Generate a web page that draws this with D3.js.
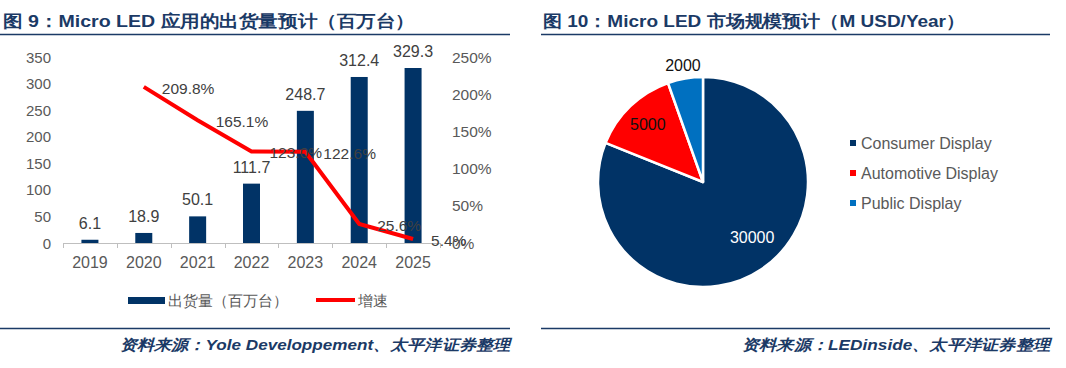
<!DOCTYPE html>
<html><head><meta charset="utf-8">
<script src="https://cdn.jsdelivr.net/npm/d3@7"></script>
<style>
body{margin:0;background:#fff;}
svg{display:block;}
text{font-family:"Liberation Sans",Arial,sans-serif;}
</style></head>
<body>
<svg id="c" width="1066" height="368"></svg>
<script>
// ---- data ----
const years = ["2019","2020","2021","2022","2023","2024","2025"];
const shipments = [6.1, 18.9, 50.1, 111.7, 248.7, 312.4, 329.3];
const growth = [null, 209.8, 165.1, 123.0, 122.6, 25.6, 5.4];
const leftTicks = [0,50,100,150,200,250,300,350];
const rightTicks = [0,50,100,150,200,250];
const pieCats = ["Consumer Display","Automotive Display","Public Display"];
const pieVals = [30000, 5000, 2000];
const pieColors = ["#013366","#FF0000","#0070C0"];
const title1 = "图 9：Micro LED 应用的出货量预计（百万台）";
const title2 = "图 10：Micro LED 市场规模预计（M USD/Year）";
const source1 = "资料来源：Yole Developpement、太平洋证券整理";
const source2 = "资料来源：LEDinside、太平洋证券整理";
const legend1 = ["出货量（百万台）","增速"];

const svg = d3.select("#c");
const navy = "#013366", gray = "#595959", hdr = "#1B3A66", dark = "#404040";

// ---- headers / footers ----
function frame(x0, x1, tx, tw, title, sx0, source){
  svg.append("text").attr("x",tx).attr("y",27).text(title)
    .attr("font-family","'Noto Sans CJK SC'").attr("font-weight","bold")
    .attr("font-size",17).attr("fill",hdr)
    .attr("textLength",tw).attr("lengthAdjust","spacingAndGlyphs");
  svg.append("line").attr("x1",x0).attr("x2",x1).attr("y1",34.5).attr("y2",34.5)
    .attr("stroke",hdr).attr("stroke-width",1.3);
  svg.append("line").attr("x1",x0).attr("x2",x1).attr("y1",328.5).attr("y2",328.5)
    .attr("stroke",hdr).attr("stroke-width",1.3);
  svg.append("text").attr("x",sx0).attr("y",350).text(source)
    .attr("font-family","'Noto Sans CJK SC'").attr("font-weight","bold").attr("font-style","italic")
    .attr("font-size",15).attr("fill",hdr)
    .attr("textLength",x1-sx0).attr("lengthAdjust","spacingAndGlyphs");
}
frame(0, 510, 3, 412, title1, 120, source1);
frame(541, 1050, 543, 422, title2, 742, source2);

// ---- left chart ----
const xb = d3.scaleBand().domain(years).range([63,440]);
const yL = d3.scaleLinear().domain([0,350]).range([243,57]);
const yR = d3.scaleLinear().domain([0,250]).range([243,57]);

const g = svg.append("g");
g.append("line").attr("x1",63).attr("x2",440).attr("y1",243.5).attr("y2",243.5).attr("stroke","#BFBFBF");
years.concat(["end"]).forEach((d,i)=>{
  const xx = i<years.length ? xb(d) : xb.range()[1];
  g.append("line").attr("x1",Math.round(xx)+0.5).attr("x2",Math.round(xx)+0.5).attr("y1",243).attr("y2",248).attr("stroke","#BFBFBF");
});
g.selectAll(".lt").data(leftTicks).join("text").attr("x",51).attr("y",d=>yL(d)+5.5)
  .attr("text-anchor","end").attr("font-size",15).attr("fill",gray).text(d=>d);
g.selectAll(".rt").data(rightTicks).join("text").attr("x",452).attr("y",d=>yR(d)+5.5)
  .attr("text-anchor","start").attr("font-size",15.5).attr("fill",gray).text(d=>d+"%");
g.selectAll(".xt").data(years).join("text").attr("x",d=>xb(d)+xb.bandwidth()/2).attr("y",268)
  .attr("text-anchor","middle").attr("font-size",16).attr("fill",gray).text(d=>d);
// bars
g.selectAll(".bar").data(shipments).join("rect")
  .attr("x",(d,i)=>xb(years[i])+xb.bandwidth()/2-8.5).attr("width",17)
  .attr("y",d=>yL(d)).attr("height",d=>243-yL(d)).attr("fill",navy);
g.selectAll(".bl").data(shipments).join("text")
  .attr("x",(d,i)=>xb(years[i])+xb.bandwidth()/2).attr("y",d=>yL(d)-11)
  .attr("text-anchor","middle").attr("font-size",16).attr("fill",dark).text(d=>d.toFixed(1));
// line
const pts = growth.map((v,i)=>v==null?null:[xb(years[i])+xb.bandwidth()/2, yR(v), v]).filter(d=>d);
g.append("path").attr("d",d3.line()(pts.map(p=>[p[0],p[1]])))
  .attr("fill","none").attr("stroke","#FF0000").attr("stroke-width",4).attr("stroke-linejoin","miter");
g.selectAll(".gl").data(pts).join("text").attr("x",p=>p[0]+18).attr("y",p=>p[1]+7)
  .attr("font-size",15.5).attr("fill",dark).text(p=>p[2].toFixed(1)+"%");
// legend
g.append("rect").attr("x",128).attr("y",297).attr("width",37).attr("height",7).attr("fill",navy);
g.append("text").attr("x",168).attr("y",306).attr("font-size",15).attr("fill",gray)
  .attr("font-family","'Noto Sans CJK SC'").text(legend1[0]);
g.append("line").attr("x1",316).attr("x2",355).attr("y1",300).attr("y2",300).attr("stroke","#FF0000").attr("stroke-width",4);
g.append("text").attr("x",358).attr("y",306).attr("font-size",15).attr("fill",gray)
  .attr("font-family","'Noto Sans CJK SC'").text(legend1[1]);

// ---- pie ----
const cx = 703, cy = 182, r = 105;
const pie = d3.pie().sort(null).value(d=>d)(pieVals);
const arc = d3.arc().innerRadius(0).outerRadius(r);
const pg = svg.append("g").attr("transform",`translate(${cx},${cy})`);
pg.selectAll("path").data(pie).join("path").attr("d",arc)
  .attr("fill",(d,i)=>pieColors[i]).attr("stroke","#fff").attr("stroke-width",2.5).attr("stroke-linejoin","round");
const labR = [0.7, 0.76, 1.13];
pg.selectAll(".pl").data(pie).join("text")
  .attr("x",(d,i)=>d3.arc().innerRadius(r*labR[i]).outerRadius(r*labR[i]).centroid(d)[0] + (i===0?8:0))
  .attr("y",(d,i)=>d3.arc().innerRadius(r*labR[i]).outerRadius(r*labR[i]).centroid(d)[1]+6 - (i===0?6:0))
  .attr("text-anchor","middle").attr("font-size",16)
  .attr("fill",(d,i)=>i===0?"#fff":"#111").text(d=>d.data);
// pie legend
const lg = svg.append("g");
pieCats.forEach((c,i)=>{
  lg.append("rect").attr("x",850).attr("y",140+i*30).attr("width",6).attr("height",6).attr("fill",pieColors[i]);
  lg.append("text").attr("x",861).attr("y",149+i*30).attr("font-size",16).attr("fill",gray).text(c);
});
</script>
</body></html>
